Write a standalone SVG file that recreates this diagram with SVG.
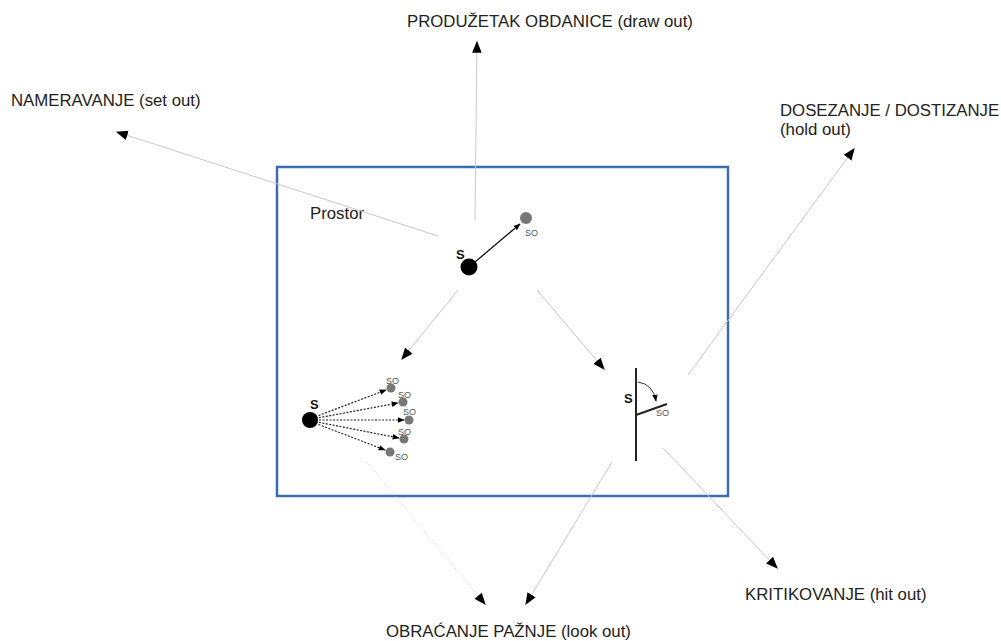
<svg xmlns="http://www.w3.org/2000/svg" width="1001" height="641" viewBox="0 0 1001 641">
<defs>
<marker id="ah" viewBox="0 0 10 10" refX="9" refY="5" markerWidth="12" markerHeight="12" markerUnits="userSpaceOnUse" orient="auto"><path d="M0,1 L10,5 L0,9 Z" fill="#000"/></marker>
<marker id="sh" viewBox="0 0 10 10" refX="9" refY="5" markerWidth="7" markerHeight="7" markerUnits="userSpaceOnUse" orient="auto"><path d="M0,1 L10,5 L0,9 Z" fill="#000"/></marker>
<style>
text{font-family:"Liberation Sans",Arial,sans-serif;fill:#222}
.lbl{font-size:16.8px}
.c{stroke:#c8c8c8;stroke-width:1;fill:none;marker-end:url(#ah)}
.dot{stroke-dasharray:1,2}
.s{font-size:13px;font-weight:bold;fill:#111}
.so{font-size:9px;fill:#555}
.d{stroke:#222;stroke-width:1.2;stroke-dasharray:2,1.5;fill:none;marker-end:url(#sh)}
.g{fill:#777}
</style>
</defs>
<rect id="prostor" x="277" y="167" width="451" height="329" fill="none" stroke="#3d6cb0" stroke-width="2.5"/>
<text class="lbl" x="310" y="219">Prostor</text>
<g id="connectors">
<line class="c" x1="438" y1="236" x2="117" y2="132"/>
<line class="c" x1="475" y1="220" x2="477" y2="42"/>
<line class="c" x1="688" y1="375" x2="854" y2="149"/>
<line class="c" x1="458" y1="290" x2="402" y2="359"/>
<line class="c" x1="537" y1="290" x2="604" y2="369"/>
<line class="c" x1="663" y1="448" x2="777" y2="568"/>
<line class="c dot" x1="367" y1="462" x2="485" y2="604"/>
<line class="c" x1="612" y1="462" x2="526" y2="604"/>
</g>
<g id="node-top">
<line x1="475" y1="262" x2="520" y2="224" stroke="#111" stroke-width="1.3" marker-end="url(#sh)"/>
<circle cx="469" cy="267" r="8.5" fill="#000"/>
<text class="s" x="456" y="259">S</text>
<circle class="g" cx="526" cy="218" r="6"/>
<text class="so" x="525" y="236">SO</text>
</g>
<g id="node-left">
<line class="d" x1="312" y1="418" x2="386" y2="390"/>
<line class="d" x1="312" y1="419" x2="398" y2="403"/>
<line class="d" x1="312" y1="420" x2="404" y2="420"/>
<line class="d" x1="312" y1="421" x2="399" y2="438"/>
<line class="d" x1="312" y1="422" x2="385" y2="450"/>
<circle cx="310" cy="420" r="8" fill="#000"/>
<text class="s" x="310" y="409">S</text>
<circle class="g" cx="391" cy="388" r="4.5"/>
<circle class="g" cx="403" cy="402" r="4.5"/>
<circle class="g" cx="409" cy="420" r="4.5"/>
<circle class="g" cx="404" cy="439" r="4.5"/>
<circle class="g" cx="390" cy="452" r="4.5"/>
<text class="so" x="386" y="384">SO</text>
<text class="so" x="398" y="398">SO</text>
<text class="so" x="403" y="415">SO</text>
<text class="so" x="398" y="435">SO</text>
<text class="so" x="395" y="460">SO</text>
</g>
<g id="node-right">
<line x1="636" y1="368" x2="636" y2="461" stroke="#222" stroke-width="2"/>
<line x1="636" y1="415" x2="667" y2="404" stroke="#222" stroke-width="2"/>
<path d="M638,382 Q653,384 656,401" stroke="#333" stroke-width="1" fill="none" marker-end="url(#sh)"/>
<text class="s" x="624" y="403">S</text>
<text class="so" x="656" y="416">SO</text>
</g>
<g id="labels">
<text class="lbl" x="11" y="106">NAMERAVANJE (set out)</text>
<text class="lbl" x="407" y="27">PRODUŽETAK OBDANICE (draw out)</text>
<text class="lbl" x="780" y="116">DOSEZANJE / DOSTIZANJE</text>
<text class="lbl" x="780" y="135">(hold out)</text>
<text class="lbl" x="745" y="600">KRITIKOVANJE (hit out)</text>
<text class="lbl" x="386" y="637">OBRAĆANJE PAŽNJE (look out)</text>
</g>
</svg>
